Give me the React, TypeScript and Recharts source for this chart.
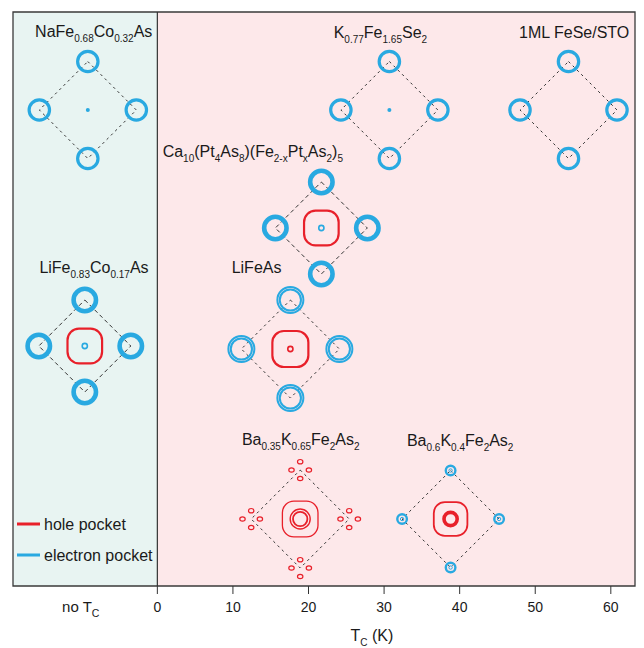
import React from 'react';
import { ScatterChart, Scatter, XAxis, YAxis, ReferenceArea, ReferenceLine, ReferenceDot } from 'recharts';

// one entry per material; "_{...}" marks a subscript
const MATERIALS = [
  'NaFe_{0.68}Co_{0.32}As',
  'K_{0.77}Fe_{1.65}Se_{2}',
  '1ML FeSe/STO',
  'Ca_{10}(Pt_{4}As_{8})(Fe_{2-x}Pt_{x}As_{2})_{5}',
  'LiFe_{0.83}Co_{0.17}As',
  'LiFeAs',
  'Ba_{0.35}K_{0.65}Fe_{2}As_{2}',
  'Ba_{0.6}K_{0.4}Fe_{2}As_{2}',
];
// x position on the Tc axis (negative = "no Tc" column)
const TC_POSITION = [-9.2, 30.7, 54.4, 21.7, -9.6, 17.6, 18.9, 38.8];
// vertical row of each diagram
const ROW = [476, 476, 476, 358, 240, 237, 67, 67];
// pocket layout of each Fermi surface sketch
const POCKETS = ['e', 'e', 'e0', 'eh', 'eh', 'li', 'h', 'hs'];
// title placement relative to the diagram centre, px
const LABEL_OFFSET = [[-52.7, -73], [-55.7, -72], [-49.5, -72.3], [-158.7, -71], [-45.4, -72.7], [-58.7, -76], [-58.3, -74], [-43.7, -73]];

const X_TICKS = [-10, 0, 10, 20, 30, 40, 50, 60];
const NO_TC_TICK = -10;
const X_DOMAIN = [-19.1, 63.2];
const Y_DOMAIN = [0, 574];

const BLUE = '#29a9e1';
const RED = '#e8202a';
const INK = '#1a1a1a';
const FONT = '"Liberation Sans", Arial, sans-serif';

const data = MATERIALS.map((name, i) => ({
  name,
  x: TC_POSITION[i],
  y: ROW[i],
  kind: POCKETS[i],
  dx: LABEL_OFFSET[i][0],
  dy: LABEL_OFFSET[i][1],
}));

const Rich = ({ x, y, text, size = 16, subSize = 10, drop = 5, anchor = 'start' }: any) => {
  const parts = text.split(/(_\{[^}]*\})/).filter(Boolean);
  let shift = 0;
  return (
    <text x={x} y={y} fontSize={size} textAnchor={anchor} fill={INK} fontFamily={FONT}>
      {parts.map((p: string, i: number) => {
        const sub = p.startsWith('_{');
        const target = sub ? drop : 0;
        const dy = target - shift;
        shift = target;
        return (
          <tspan key={i} dy={dy} fontSize={sub ? subSize : size}>
            {sub ? p.slice(2, -1) : p}
          </tspan>
        );
      })}
    </text>
  );
};

const square = (cx: number, cy: number, half: number, rx: number, sw: number) => (
  <rect x={cx - half} y={cy - half} width={half * 2} height={half * 2} rx={rx} fill="none" stroke={RED} strokeWidth={sw} />
);

const ring = (cx: number, cy: number, r: number, sw: number, color: string, key?: string) => (
  <circle key={key} cx={cx} cy={cy} r={r} fill="none" stroke={color} strokeWidth={sw} />
);

const Diagram = (props: any) => {
  const { cx, cy } = props;
  const p = props.payload ?? props;
  const kind = p.kind;
  const h = kind === 'eh' ? 46 : kind === 'li' || kind === 'h' ? 49 : 48.5;
  const dash = kind === 'eh' ? '4 3' : '2.5 3.5';
  const verts = [[0, -h], [h, 0], [0, h], [-h, 0]];
  const pts = verts.map(([vx, vy]) => `${cx + vx},${cy + vy}`).join(' ');

  const parts: React.ReactNode[] = [];
  verts.forEach(([vx, vy], i) => {
    const x = cx + vx;
    const y = cy + vy;
    if (kind === 'e' || kind === 'e0') parts.push(ring(x, y, 10.2, 3.2, BLUE, 'v' + i));
    if (kind === 'eh') parts.push(ring(x, y, 11.2, 4.6, BLUE, 'v' + i));
    if (kind === 'li') {
      parts.push(ring(x, y, 13, 2, BLUE, 'a' + i));
      parts.push(ring(x, y, 10.6, 2, BLUE, 'b' + i));
    }
    if (kind === 'hs') {
      parts.push(ring(x, y, 4.8, 2.4, BLUE, 'a' + i));
      parts.push(ring(x, y, 1.7, 1, BLUE, 'b' + i));
    }
    if (kind === 'h') {
      [[0, -8.3], [-8.7, 0], [8.7, 0], [0, 8.5]].forEach(([ox, oy], j) =>
        parts.push(
          <ellipse key={`e${i}${j}`} cx={x + ox} cy={y + oy} rx={2.7} ry={2.2} fill="none" stroke={RED} strokeWidth={1.2} />
        )
      );
    }
  });

  return (
    <g>
      <polygon points={pts} fill="none" stroke="#333" strokeWidth={1} strokeDasharray={dash} />
      {parts}
      {kind === 'e' && <circle cx={cx} cy={cy} r={2} fill={BLUE} />}
      {kind === 'eh' && square(cx, cy, 17.3, 11.5, 2.2)}
      {kind === 'eh' && ring(cx, cy, 2.6, 1.6, BLUE)}
      {kind === 'li' && square(cx, cy, 18, 11.5, 2.2)}
      {kind === 'li' && ring(cx, cy, 2.6, 1.6, RED)}
      {kind === 'h' && square(cx, cy, 17.8, 11.5, 1.3)}
      {kind === 'h' && ring(cx, cy, 10, 1.4, RED)}
      {kind === 'h' && ring(cx, cy, 7.2, 1.8, RED)}
      {kind === 'hs' && square(cx, cy, 16.8, 11, 1.8)}
      {kind === 'hs' && ring(cx, cy, 6.6, 3.6, RED)}
      <Rich x={cx + p.dx} y={cy + p.dy} text={p.name} />
    </g>
  );
};

const AxisTick = (props: any) => {
  const { x, y, payload } = props;
  const v = payload.value;
  if (v === NO_TC_TICK) {
    return <Rich x={x - 1} y={y + 26} text="no T_{C}" size={15} subSize={10.5} drop={5} anchor="middle" />;
  }
  return (
    <g>
      <line x1={x} x2={x} y1={y} y2={y + 8} stroke="#333" strokeWidth={1} />
      <text x={x} y={y + 26} textAnchor="middle" fontSize={14} fill={INK} fontFamily={FONT}>
        {v}
      </text>
    </g>
  );
};

const AxisTitle = (props: any) => <Rich x={props.cx} y={props.cy} text="T_{C} (K)" size={16} subSize={10} drop={5} anchor="middle" />;

const Legend = () => (
  <svg width={200} height={80} style={{ position: 'absolute', left: 0, top: 500 }}>
    <line x1={9} x2={32} y1={16} y2={16} stroke={RED} strokeWidth={3} />
    <text x={36} y={22} fontSize={16} fill={INK} fontFamily={FONT}>hole pocket</text>
    <line x1={9} x2={32} y1={47} y2={47} stroke={BLUE} strokeWidth={3} />
    <text x={36} y={53} fontSize={16} fill={INK} fontFamily={FONT}>electron pocket</text>
  </svg>
);

export default function App() {
  return (
    <div style={{ position: 'relative', width: 636, height: 640, fontFamily: FONT }}>
      <ScatterChart width={636} height={640} margin={{ top: 4, right: 9, left: 5, bottom: 22 }}>
        <XAxis
          type="number"
          dataKey="x"
          domain={X_DOMAIN}
          ticks={X_TICKS}
          allowDataOverflow
          axisLine={false}
          tickLine={false}
          tickSize={0}
          tickMargin={0}
          height={40}
          tick={<AxisTick />}
          interval={0}
        />
        <YAxis type="number" dataKey="y" domain={Y_DOMAIN} allowDataOverflow hide />
        <ReferenceArea x1={X_DOMAIN[0]} x2={0} y1={Y_DOMAIN[0]} y2={Y_DOMAIN[1]} fill="#e8f4f2" fillOpacity={1} stroke="none" />
        <ReferenceArea x1={0} x2={X_DOMAIN[1]} y1={Y_DOMAIN[0]} y2={Y_DOMAIN[1]} fill="#fde8ea" fillOpacity={1} stroke="none" />
        <ReferenceLine x={0} stroke="#333" strokeWidth={1.2} />
        <ReferenceArea x1={X_DOMAIN[0]} x2={X_DOMAIN[1]} y1={Y_DOMAIN[0]} y2={Y_DOMAIN[1]} fill="none" stroke="#3a3a3a" strokeWidth={1.3} />
        <Scatter data={data} shape={(p: any) => <Diagram {...p} />} isAnimationActive={false} />
        <ReferenceDot x={28.4} y={-55} ifOverflow="visible" shape={(p: any) => <AxisTitle {...p} />} />
      </ScatterChart>
      <Legend />
    </div>
  );
}
